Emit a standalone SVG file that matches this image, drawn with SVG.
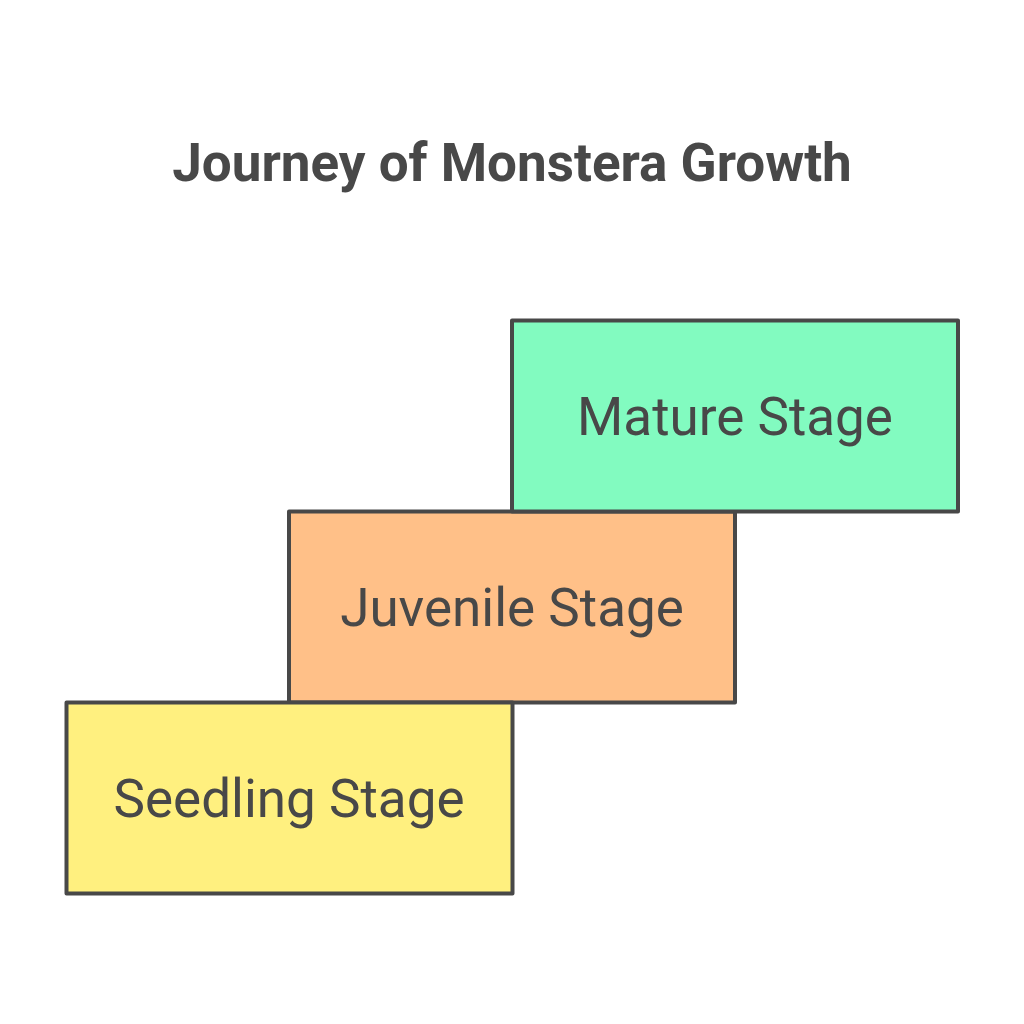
<svg xmlns="http://www.w3.org/2000/svg" width="1024" height="1024" viewBox="0 0 1024 1024">
<style>
.box{stroke:#484848;stroke-width:4;stroke-linejoin:round}
.lbl{font-family:Roboto,"Liberation Sans",sans-serif;font-size:53px;fill:#484848;text-anchor:middle}
.title{font-family:Roboto,"Liberation Sans",sans-serif;font-size:53px;font-weight:bold;fill:#484848;text-anchor:middle}
</style>
<rect width="1024" height="1024" fill="#ffffff"/>
<text class="title" x="512" y="181">Journey of Monstera Growth</text>
<g id="juvenile">
<rect class="box" x="289" y="511.5" width="446" height="191" fill="#FFC088"/>
<text class="lbl" x="512" y="626">Juvenile Stage</text>
</g>
<g id="mature">
<rect class="box" x="512" y="320.5" width="446" height="191" fill="#82FBC0"/>
<text class="lbl" x="735" y="435">Mature Stage</text>
</g>
<g id="seedling">
<rect class="box" x="66.5" y="702.5" width="446" height="191" fill="#FFF07F"/>
<text class="lbl" x="289" y="817">Seedling Stage</text>
</g>
<g id="connectors"/>
</svg>
